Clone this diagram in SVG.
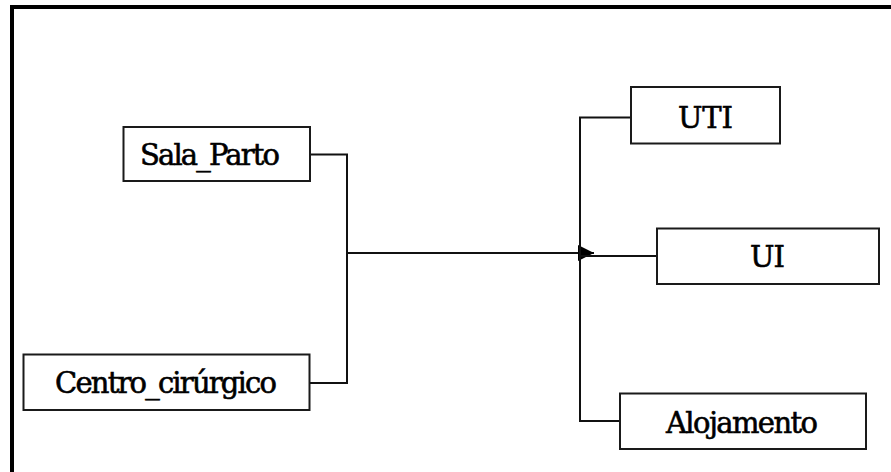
<svg xmlns="http://www.w3.org/2000/svg" width="891" height="472" viewBox="0 0 891 472">
<style>
.box{fill:#fff;stroke:#1a1a1a;stroke-width:2}
.lbl{font-family:'DejaVu Serif','Liberation Serif',serif;font-size:29px;fill:#000;stroke:#000;stroke-width:0.6;text-anchor:middle}
.conn{fill:none;stroke:#111;stroke-width:2}
</style>
<defs>
<marker id="arr" markerWidth="17" markerHeight="17" refX="16" refY="8" orient="auto" markerUnits="userSpaceOnUse">
<path d="M0,0 L16,8 L0,16 Z" fill="#000"/>
</marker>
</defs>
<rect x="0" y="0" width="891" height="472" fill="#fff"/>
<g id="frame">
<rect x="10" y="5" width="881" height="4" fill="#000"/>
<rect x="10" y="5" width="4" height="467" fill="#000"/>
</g>
<g id="connectors">
<polyline class="conn" points="310,154.5 347,154.5 347,383 310,383"/>
<line class="conn" x1="347" y1="253" x2="594" y2="253" marker-end="url(#arr)"/>
<polyline class="conn" points="631,117.5 580,117.5 580,421 620,421"/>
<line class="conn" x1="580" y1="256" x2="657" y2="256"/>
</g>
<g id="sala_parto">
<rect class="box" x="123.5" y="127" width="186.5" height="54"/>
<text class="lbl" x="210" y="165" textLength="140">Sala_Parto</text>
</g>
<g id="centro_cirurgico">
<rect class="box" x="23.5" y="354.5" width="286" height="55.5"/>
<text class="lbl" x="166" y="393" textLength="222">Centro_cirúrgico</text>
</g>
<g id="uti">
<rect class="box" x="631" y="87" width="149" height="56.5"/>
<text class="lbl" x="705.5" y="128" textLength="55">UTI</text>
</g>
<g id="ui">
<rect class="box" x="657" y="228.5" width="222" height="55.5"/>
<text class="lbl" x="767.5" y="267" textLength="35">UI</text>
</g>
<g id="alojamento">
<rect class="box" x="620" y="393.5" width="246" height="55.5"/>
<text class="lbl" x="742" y="432.5" textLength="152">Alojamento</text>
</g>
</svg>
